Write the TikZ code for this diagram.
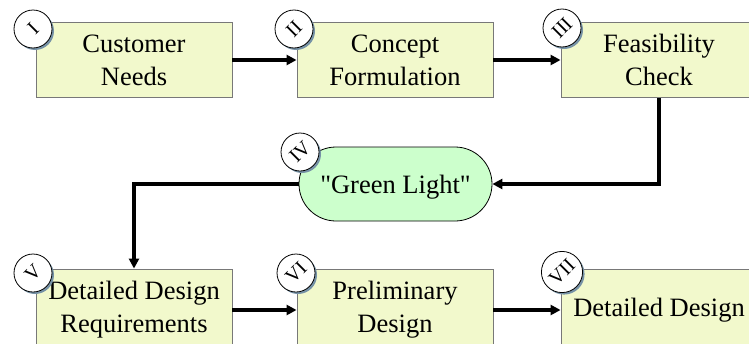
\documentclass[tikz,border=0pt]{standalone}
\usepackage{fontspec}
\setmainfont{Liberation Serif}
% same face without the TeX quote mapping, so " stays a straight quote
\newfontfamily\straightquotes{Liberation Serif}[Ligatures=TeXOff]
\usetikzlibrary{arrows.meta,shadows}
\definecolor{boxfill}{RGB}{242,249,204}
\definecolor{boxline}{RGB}{120,120,120}
\definecolor{gofill}{RGB}{204,255,204}
\definecolor{shadowc}{RGB}{118,146,166}
\begin{document}
\begin{tikzpicture}[x=1pt,y=-1pt,
  stagebox/.style={draw=boxline, line width=0.9pt, fill=boxfill,
    minimum width=196pt, inner sep=0pt, align=center,
    font=\fontsize{26.5}{33}\selectfont},
  gobox/.style={draw=black, line width=0.8pt, fill=gofill, rounded corners=37pt,
    minimum width=193pt, minimum height=74pt, inner sep=0pt,
    text height=20.5pt, text depth=2.5pt,
    font=\straightquotes\fontsize{26.5}{33}\selectfont},
  numdisc/.style={circle, draw=black, line width=0.8pt, fill=white,
    minimum size=38pt, inner sep=0pt, font=\fontsize{20}{20}\selectfont,
    drop shadow={shadow xshift=2pt, shadow yshift=-2pt, fill=shadowc, opacity=1}},
  flow/.style={line width=3.3pt, -{Triangle[length=10pt,width=10pt]}}]
\useasboundingbox (0,0) rectangle (749,343);
\clip (0,0) rectangle (749,343);

% stages
\node[stagebox, minimum height=75pt] (I)   at (134,60)  {Customer\\Needs};
\node[stagebox, minimum height=75pt] (II)  at (395,60)  {Concept\\Formulation};
\node[stagebox, minimum height=75pt] (III) at (659,60)  {Feasibility\\Check};
\node[gobox] (GL) at (395.5,184) {"Green Light"};
\node[stagebox, minimum height=82pt] (V)   at (134,310) {Detailed Design\\Requirements};
\node[stagebox, minimum height=82pt] (VI)  at (395,310) {Preliminary\\Design};
\node[stagebox, minimum height=82pt] (VII) at (659,310) {Detailed Design};

% numbered discs
\node[numdisc] (nI)   at (33,29)   {\rotatebox{45}{I}};
\node[numdisc] (nII)  at (294,29)  {\rotatebox{45}{II}};
\node[numdisc] (nIII) at (562,28)  {\rotatebox{45}{III}};
\node[numdisc] (nIV)  at (300,152) {\rotatebox{45}{IV}};
\node[numdisc] (nV)   at (33,273)  {\rotatebox{45}{V}};
\node[numdisc] (nVI)  at (296,273) {\rotatebox{45}{VI}};
\node[numdisc] (nVII) at (562,272) {\rotatebox{45}{VII}};

% flow
\draw[flow] (I) -- (II);
\draw[flow] (II) -- (III);
\draw[flow] (III.south) |- (GL.east);
\draw[flow] (GL.west) -| (V.north);
\draw[flow] (V) -- (VI);
\draw[flow] (VI) -- (VII);
\end{tikzpicture}
\end{document}
